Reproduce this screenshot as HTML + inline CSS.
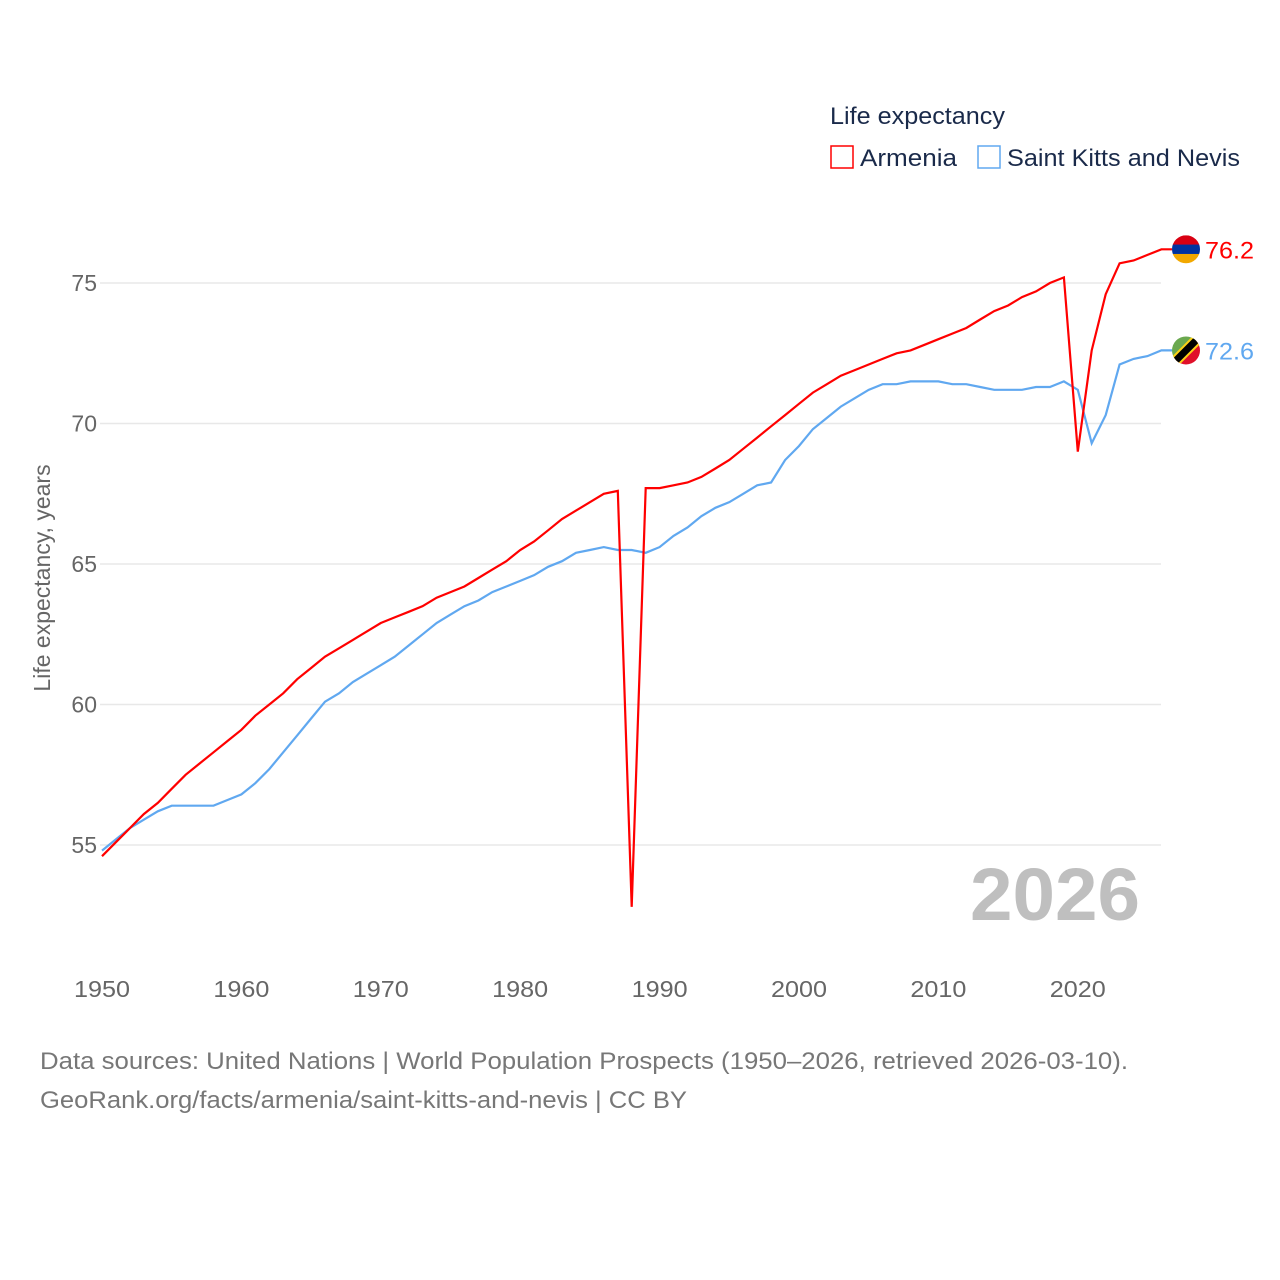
<!DOCTYPE html>
<html><head><meta charset="utf-8"><style>
body{margin:0;background:#fff;}
svg{display:block;font-family:"Liberation Sans",sans-serif;}
</style></head><body>
<svg id="chart" width="1280" height="1280" viewBox="0 0 1280 1280">
<g id="grid"></g>
<g id="yticks"></g>
<g id="xticks"></g>
<text x="50" y="578" transform="rotate(-90 50 578)" text-anchor="middle" font-size="23" fill="#666">Life expectancy, years</text>
<text x="970" y="920" font-size="74" font-weight="bold" fill="#bfbfbf" textLength="170" lengthAdjust="spacingAndGlyphs">2026</text>
<g id="series"></g>
<g>
<text x="830" y="124" font-size="24" fill="#1a2a4a" textLength="175" lengthAdjust="spacingAndGlyphs">Life expectancy</text>
<g><rect x="831" y="146" width="22" height="22" fill="none" stroke="#f00" stroke-width="1.5"/><text x="860" y="166" font-size="24" fill="#1a2a4a" textLength="97" lengthAdjust="spacingAndGlyphs">Armenia</text></g>
<g><rect x="978" y="146" width="22" height="22" fill="none" stroke="#60a8f0" stroke-width="1.5"/><text x="1007" y="166" font-size="24" fill="#1a2a4a" textLength="233" lengthAdjust="spacingAndGlyphs">Saint Kitts and Nevis</text></g>
</g>
<g id="ends"></g>
<text x="40" y="1069" font-size="24" fill="#777" textLength="1088" lengthAdjust="spacingAndGlyphs">Data sources: United Nations | World Population Prospects (1950–2026, retrieved 2026-03-10).</text>
<text x="40" y="1108" font-size="24" fill="#777" textLength="647" lengthAdjust="spacingAndGlyphs">GeoRank.org/facts/armenia/saint-kitts-and-nevis | CC BY</text>
</svg>
<script>
const years=[];for(let y=1950;y<=2026;y++)years.push(y);
const armenia=[54.6,55.1,55.6,56.1,56.5,57.0,57.5,57.9,58.3,58.7,59.1,59.6,60.0,60.4,60.9,61.3,61.7,62.0,62.3,62.6,62.9,63.1,63.3,63.5,63.8,64.0,64.2,64.5,64.8,65.1,65.5,65.8,66.2,66.6,66.9,67.2,67.5,67.6,52.8,67.7,67.7,67.8,67.9,68.1,68.4,68.7,69.1,69.5,69.9,70.3,70.7,71.1,71.4,71.7,71.9,72.1,72.3,72.5,72.6,72.8,73.0,73.2,73.4,73.7,74.0,74.2,74.5,74.7,75.0,75.2,69.0,72.6,74.6,75.7,75.8,76.0,76.2];
const skn=[54.8,55.2,55.6,55.9,56.2,56.4,56.4,56.4,56.4,56.6,56.8,57.2,57.7,58.3,58.9,59.5,60.1,60.4,60.8,61.1,61.4,61.7,62.1,62.5,62.9,63.2,63.5,63.7,64.0,64.2,64.4,64.6,64.9,65.1,65.4,65.5,65.6,65.5,65.5,65.4,65.6,66.0,66.3,66.7,67.0,67.2,67.5,67.8,67.9,68.7,69.2,69.8,70.2,70.6,70.9,71.2,71.4,71.4,71.5,71.5,71.5,71.4,71.4,71.3,71.2,71.2,71.2,71.3,71.3,71.5,71.2,69.3,70.3,72.1,72.3,72.4,72.6];
const yTicks=[55,60,65,70,75];
const xTicks=[1950,1960,1970,1980,1990,2000,2010,2020];
const NS='http://www.w3.org/2000/svg';
const X=v=>102+(v-1950)*13.94;
const Y=v=>283+(75-v)*28.1;
function mk(tag,attrs,parent){const e=document.createElementNS(NS,tag);for(const k in attrs)e.setAttribute(k,attrs[k]);parent.appendChild(e);return e;}
const grid=document.getElementById('grid'),yt=document.getElementById('yticks'),xt=document.getElementById('xticks');
yTicks.forEach(t=>{
 const l=mk('line',{x1:100,x2:1161,y1:Y(t),y2:Y(t),stroke:'#e8e8e8','stroke-width':1.5},grid);
 
 
 const tx=mk('text',{x:97,y:Y(t)+8,'text-anchor':'end','font-size':23,fill:'#666'},yt);
 
 
 tx.textContent=t;
});
xTicks.forEach(t=>{
 const tx=mk('text',{x:X(t),y:997,'text-anchor':'middle','font-size':23,fill:'#666',textLength:56,lengthAdjust:'spacingAndGlyphs'},xt);
 
 
 tx.textContent=t;
});
const s=document.getElementById('series');
function line(vals,color,name){
 const d=vals.map((v,i)=>(i?'L':'M')+X(years[i]).toFixed(1)+','+Y(v).toFixed(1)).join('')+'H1172';
 const p=mk('path',{d:d,fill:'none',stroke:color,'stroke-width':2.2,'stroke-linejoin':'miter'},s);
 
 
}
line(skn,'#60a8f0','line-saint-kitts-and-nevis');
line(armenia,'#ff0000','line-armenia');
const ends=document.getElementById('ends');
const aL=armenia[armenia.length-1],sL=skn[skn.length-1];
const ax=1186,ay=Y(aL);
mk('defs',{},ends).innerHTML='<clipPath id="ca"><circle cx="'+ax+'" cy="'+ay+'" r="14"/></clipPath><clipPath id="cs"><circle cx="'+ax+'" cy="'+Y(sL)+'" r="14"/></clipPath>';
const fa=mk('g',{'clip-path':'url(#ca)'},ends);


mk('rect',{x:ax-14,y:ay-14,width:28,height:10,fill:'#d90012'},fa);
mk('rect',{x:ax-14,y:ay-4.7,width:28,height:9.4,fill:'#0033a0'},fa);
mk('rect',{x:ax-14,y:ay+4.7,width:28,height:10,fill:'#f2a800'},fa);
const sy=Y(sL);
const fs=mk('g',{'clip-path':'url(#cs)'},ends);


mk('polygon',{points:(ax-14)+','+(sy+14)+' '+(ax-14)+','+(sy-14)+' '+(ax+14)+','+(sy-14),fill:'#6aa84f'},fs);
mk('polygon',{points:(ax-14)+','+(sy+14)+' '+(ax+14)+','+(sy+14)+' '+(ax+14)+','+(sy-14),fill:'#e0102a'},fs);
mk('line',{x1:ax-14,y1:sy+14,x2:ax+14,y2:sy-14,stroke:'#fcd116','stroke-width':11},fs);
mk('line',{x1:ax-14,y1:sy+14,x2:ax+14,y2:sy-14,stroke:'#000','stroke-width':7},fs);
const ta=mk('text',{x:1205,y:ay+9,'font-size':24,fill:'#ff0000',textLength:49,lengthAdjust:'spacingAndGlyphs'},ends);


ta.textContent=aL.toFixed(1);
const ts=mk('text',{x:1205,y:sy+9,'font-size':24,fill:'#60a8f0',textLength:49,lengthAdjust:'spacingAndGlyphs'},ends);


ts.textContent=sL.toFixed(1);
</script>
</body></html>
